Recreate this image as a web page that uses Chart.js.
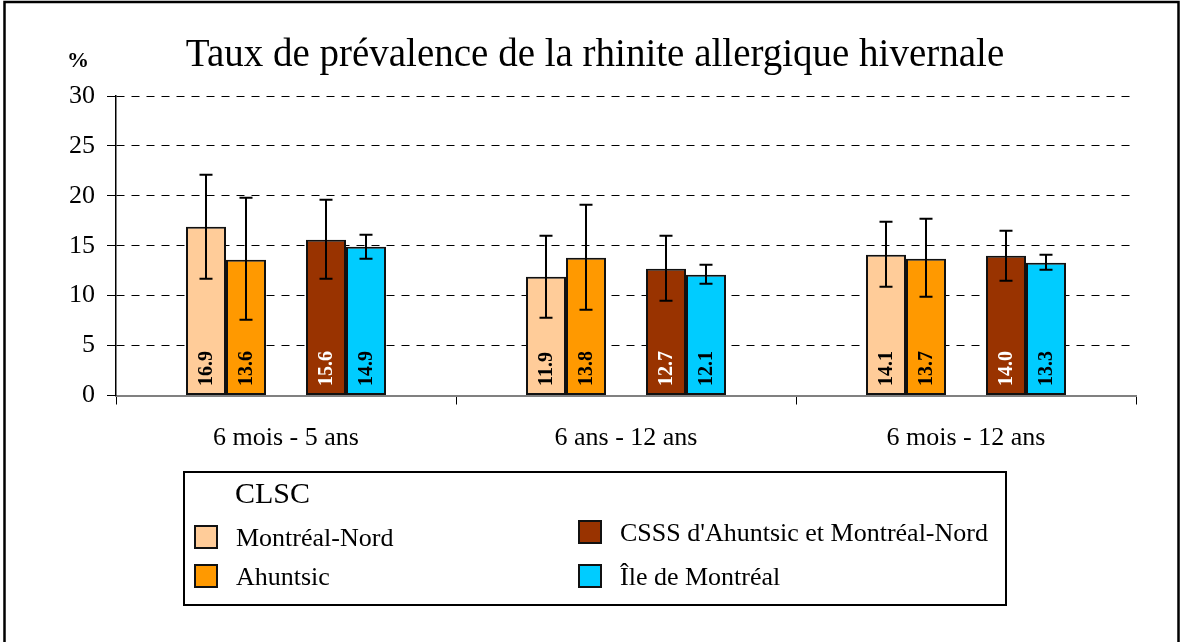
<!DOCTYPE html>
<html lang="fr">
<head>
<meta charset="utf-8">
<title>Taux de prévalence de la rhinite allergique hivernale</title>
<script src="https://cdn.jsdelivr.net/npm/chart.js@4.4.1/dist/chart.umd.min.js"></script>
<style>
  html, body { margin: 0; padding: 0; background: #fff; }
  #wrap { width: 1182px; height: 642px; position: relative; }
</style>
</head>
<body>
<div id="wrap"><canvas id="chart"></canvas></div>
<script>
// Données
const categories = ['6 mois - 5 ans', '6 ans - 12 ans', '6 mois - 12 ans'];
const seriesNames = ['Montréal-Nord', 'Ahuntsic', "CSSS d'Ahuntsic et Montréal-Nord", 'Île de Montréal'];

const montrealNord = [16.9, 11.9, 14.1];
const ahuntsic = [13.6, 13.8, 13.7];
const csss = [15.6, 12.7, 14.0];
const ileMontreal = [14.9, 12.1, 13.3];

// Intervalles de confiance (bas / haut)
const montrealNordLow = [11.7, 7.8, 10.9];
const montrealNordHigh = [22.1, 16.0, 17.4];
const ahuntsicLow = [7.6, 8.6, 9.9];
const ahuntsicHigh = [19.8, 19.1, 17.7];
const csssLow = [11.7, 9.5, 11.5];
const csssHigh = [19.6, 16.0, 16.5];
const ileLow = [13.7, 11.2, 12.6];
const ileHigh = [16.1, 13.1, 14.1];

const yTicks = [0, 5, 10, 15, 20, 25, 30];

const colors = ['#FFCC99', '#FF9900', '#993300', '#00CCFF'];
const serif = "'Liberation Serif', 'Times New Roman', serif";

function barSet(label, data, color, low, high, labelColor) {
    return {
        label: label,
        data: data,
        backgroundColor: color,
        borderColor: '#111',
        borderWidth: 2,
        borderSkipped: false,
        errLow: low,
        errHigh: high,
        labelColor: labelColor
    };
}

// Colonne vide entre Ahuntsic et le CSSS
const spacer = { label: '', data: [null, null, null], backgroundColor: 'rgba(0,0,0,0)', isSpacer: true };

const datasets = [
    barSet(seriesNames[0], montrealNord, colors[0], montrealNordLow, montrealNordHigh, '#000'),
    barSet(seriesNames[1], ahuntsic, colors[1], ahuntsicLow, ahuntsicHigh, '#000'),
    spacer,
    barSet(seriesNames[2], csss, colors[2], csssLow, csssHigh, '#fff'),
    barSet(seriesNames[3], ileMontreal, colors[3], ileLow, ileHigh, '#000')
];

// Barres d'erreur et valeurs verticales
const errorBars = {
    id: 'errorBars',
    afterDatasetsDraw(chart) {
        const ctx = chart.ctx;
        const y = chart.scales.y;
        chart.data.datasets.forEach((ds, i) => {
            if (ds.isSpacer) return;
            const meta = chart.getDatasetMeta(i);
            meta.data.forEach((bar, j) => {
                // valeur
                ctx.save();
                ctx.translate(bar.x, bar.base - 9);
                ctx.rotate(-Math.PI / 2);
                ctx.font = 'bold 20px ' + serif;
                ctx.fillStyle = ds.labelColor;
                ctx.textAlign = 'left';
                ctx.textBaseline = 'middle';
                ctx.fillText(ds.data[j].toFixed(1), 0, 1);
                ctx.restore();

                // barre d'erreur
                const top = y.getPixelForValue(ds.errHigh[j]);
                const bot = y.getPixelForValue(ds.errLow[j]);
                ctx.save();
                ctx.strokeStyle = '#000';
                ctx.lineWidth = 2;
                ctx.beginPath();
                ctx.moveTo(bar.x, top);
                ctx.lineTo(bar.x, bot);
                ctx.moveTo(bar.x - 6.5, top);
                ctx.lineTo(bar.x + 6.5, top);
                ctx.moveTo(bar.x - 6.5, bot);
                ctx.lineTo(bar.x + 6.5, bot);
                ctx.stroke();
                ctx.restore();
            });
        });
    }
};

// Titre, unité, cadre et légende
const decor = {
    id: 'decor',
    afterDraw(chart) {
        const ctx = chart.ctx;
        ctx.save();

        // cadre extérieur
        ctx.strokeStyle = '#000';
        ctx.lineWidth = 2.5;
        ctx.strokeRect(4.5, 2, 1174, 660);

        // titre
        ctx.fillStyle = '#000';
        ctx.font = '39px ' + serif;
        ctx.textAlign = 'center';
        ctx.textBaseline = 'alphabetic';
        ctx.fillText('Taux de prévalence de la rhinite allergique hivernale', 595, 66);

        // unité
        ctx.font = 'bold 22px ' + serif;
        ctx.textBaseline = 'middle';
        ctx.fillText('%', 78, 61);

        // boîte de légende
        ctx.lineWidth = 2;
        ctx.strokeRect(184, 472, 822, 133);

        ctx.textAlign = 'left';
        ctx.font = '30px ' + serif;
        ctx.fillText('CLSC', 235, 495);

        const items = [
            { name: seriesNames[0], color: colors[0], x: 195, y: 537 },
            { name: seriesNames[1], color: colors[1], x: 195, y: 576 },
            { name: seriesNames[2], color: colors[2], x: 579, y: 532 },
            { name: seriesNames[3], color: colors[3], x: 579, y: 576 }
        ];
        ctx.font = '26px ' + serif;
        items.forEach(it => {
            ctx.fillStyle = it.color;
            ctx.fillRect(it.x, it.y - 11, 22, 22);
            ctx.strokeStyle = '#111';
            ctx.lineWidth = 2;
            ctx.strokeRect(it.x, it.y - 11, 22, 22);
            ctx.fillStyle = '#000';
            ctx.fillText(it.name, it.x + 41, it.y + 2);
        });
        ctx.restore();
    }
};

new Chart(document.getElementById('chart'), {
    type: 'bar',
    data: { labels: categories, datasets: datasets },
    options: {
        responsive: true,
        maintainAspectRatio: false,
        animation: false,
        datasets: {
            bar: { categoryPercentage: 200 / 340, barPercentage: 1 }
        },
        layout: { padding: { top: 96, right: 46, bottom: 0, left: 0 } },
        plugins: {
            legend: { display: false },
            title: { display: false },
            tooltip: { enabled: false }
        },
        scales: {
            x: {
                afterFit(scale) { scale.height = 246.5; },
                grid: {
                    offset: true,
                    drawOnChartArea: false,
                    drawTicks: true,
                    tickLength: 9,
                    color: '#000'
                },
                border: { color: '#808080', width: 2 },
                ticks: {
                    color: '#000',
                    padding: 18,
                    font: { family: serif, size: 26 }
                }
            },
            y: {
                min: 0,
                max: 30,
                afterFit(scale) { scale.width = 116; },
                afterBuildTicks(scale) { scale.ticks = yTicks.map(v => ({ value: v })); },
                grid: {
                    color: c => (c.tick && c.tick.value === 0) ? 'rgba(0,0,0,0)' : '#000',
                    lineWidth: 1,
                    tickLength: 9,
                    tickColor: '#000',
                    tickBorderDash: []
                },
                border: { color: '#000', width: 1.5, dash: [8, 7] },
                ticks: {
                    color: '#000',
                    padding: 12,
                    font: { family: serif, size: 26 }
                }
            }
        }
    },
    plugins: [errorBars, decor]
});
</script>
</body>
</html>
